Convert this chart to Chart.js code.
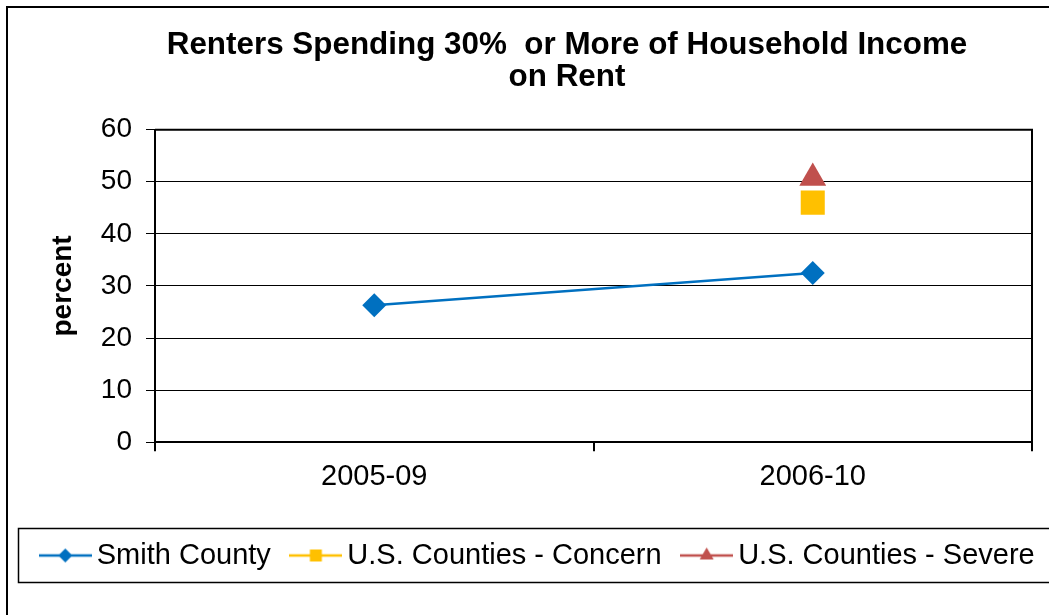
<!DOCTYPE html>
<html>
<head>
<meta charset="utf-8">
<script src="https://cdn.jsdelivr.net/npm/chart.js@4/dist/chart.umd.min.js"></script>
<style>
html,body{margin:0;padding:0;background:#fff;}
#wrap{width:1049px;height:615px;position:relative;}
</style>
</head>
<body>
<div id="wrap"><canvas id="c" width="1049" height="615"></canvas></div>
<script>
const categories = ['2005-09', '2006-10'];
const smithCounty = [26.3, 32.5];
const usConcern = [null, 46.0];
const usSevere = [null, 50.7];
const yTicks = [0, 10, 20, 30, 40, 50, 60];
const titleLines = ['Renters Spending 30%  or More of Household Income', 'on Rent'];
const seriesNames = ['Smith County', 'U.S. Counties - Concern', 'U.S. Counties - Severe'];

const FONT = '"Liberation Sans", Arial, sans-serif';
const BLUE = '#0070C0', GOLD = '#FFC000', RED = '#C0504D';

function legendMarker(color, style) {
  const c = document.createElement('canvas');
  c.width = 53; c.height = 30;
  const x = c.getContext('2d');
  x.strokeStyle = color; x.lineWidth = 2.5;
  x.beginPath(); x.moveTo(0, 15); x.lineTo(53, 15); x.stroke();
  x.fillStyle = color;
  x.beginPath();
  const cx = 26.5, cy = 15;
  if (style === 'diamond') {
    x.moveTo(cx, cy - 7); x.lineTo(cx + 7, cy); x.lineTo(cx, cy + 7); x.lineTo(cx - 7, cy);
  } else if (style === 'square') {
    x.rect(cx - 6, cy - 6, 12, 12);
  } else {
    x.moveTo(cx, cy - 8); x.lineTo(cx + 7, cy + 4); x.lineTo(cx - 7, cy + 4);
  }
  x.closePath(); x.fill();
  return c;
}
const markers = [legendMarker(BLUE, 'diamond'), legendMarker(GOLD, 'square'), legendMarker(RED, 'triangle')];

const framePlugin = {
  id: 'frame',
  afterLayout(chart) {
    if (chart.titleBlock) { chart.titleBlock.left += 85; }
    if (chart.legend) { chart.legend.left += 17; chart.legend.right += 17; }
  },
  beforeDraw(chart) {
    const ctx = chart.ctx;
    ctx.save();
    ctx.fillStyle = '#fff';
    ctx.fillRect(0, 0, chart.width, chart.height);
    ctx.strokeStyle = '#000'; ctx.lineWidth = 2;
    ctx.strokeRect(7, 7, 1100, 700);
    ctx.restore();
  },
  afterDraw(chart) {
    const ctx = chart.ctx, a = chart.chartArea;
    ctx.save();
    ctx.strokeStyle = '#000'; ctx.lineWidth = 2;
    ctx.beginPath();
    ctx.moveTo(a.left, a.top); ctx.lineTo(a.right, a.top); ctx.lineTo(a.right, a.bottom);
    ctx.stroke();
    const lg = chart.legend;
    if (lg && lg.legendHitBoxes && lg.legendHitBoxes.length) {
      const hb = lg.legendHitBoxes[0];
      const cy = hb.top + hb.height / 2;
      ctx.lineWidth = 1.5;
      ctx.strokeRect(18.5, cy - 27, 1100, 54);
    }
    ctx.restore();
  }
};

new Chart(document.getElementById('c'), {
  type: 'line',
  data: {
    labels: categories,
    datasets: [
      { label: seriesNames[0], data: smithCounty, borderColor: BLUE, backgroundColor: BLUE, borderWidth: 2.5,
        pointStyle: 'rectRot', pointRadius: 12, pointHoverRadius: 12, pointBorderWidth: 0, tension: 0 },
      { label: seriesNames[1], data: usConcern, borderColor: GOLD, backgroundColor: GOLD, borderWidth: 2.5, showLine: false,
        pointStyle: 'rect', pointRadius: 17, pointHoverRadius: 17, pointBorderWidth: 0 },
      { label: seriesNames[2], data: usSevere, borderColor: RED, backgroundColor: RED, borderWidth: 2.5, showLine: false,
        pointStyle: 'triangle', pointRadius: 15.5, pointHoverRadius: 15.5, pointBorderWidth: 0 }
    ]
  },
  options: {
    responsive: false,
    animation: false,
    devicePixelRatio: 1,
    layout: { padding: { left: 0, right: 0, top: 7, bottom: 35 } },
    plugins: {
      title: {
        display: true, text: titleLines, color: '#000',
        font: { family: FONT, size: 31.4, weight: 'bold', lineHeight: 1.03 },
        padding: { top: 22, bottom: 36 }
      },
      legend: {
        display: true, position: 'bottom', align: 'center',
        labels: {
          color: '#000', font: { family: FONT, size: 29 },
          usePointStyle: true, pointStyleWidth: 34, boxHeight: 29, padding: 28,
          generateLabels(chart) {
            return chart.data.datasets.map((d, i) => ({
              text: d.label, pointStyle: markers[i], fillStyle: d.backgroundColor,
              strokeStyle: d.borderColor, lineWidth: 0, hidden: false, datasetIndex: i, fontColor: '#000'
            }));
          }
        }
      },
      tooltip: { enabled: false }
    },
    scales: {
      x: {
        offset: true,
        afterFit(scale) { scale.height += 11; },
        grid: { display: true, drawOnChartArea: false, drawTicks: true, tickLength: 9, offset: true, color: '#000', lineWidth: 2 },
        border: { display: true, color: '#000', width: 2 },
        ticks: { color: '#000', font: { family: FONT, size: 29 }, padding: 8 }
      },
      y: {
        min: 0, max: 60,
        afterBuildTicks(scale) { scale.ticks = yTicks.map(v => ({ value: v })); },
        afterFit(scale) { scale.width = 155; },
        grid: { color: '#000', lineWidth: 1, tickLength: 9, drawTicks: true },
        border: { display: true, color: '#000', width: 2 },
        ticks: { color: '#000', font: { family: FONT, size: 28 }, padding: 14 },
        title: { display: true, text: 'percent', color: '#000', font: { family: FONT, size: 28, weight: 'bold' }, padding: { top: 46, bottom: 0 } }
      }
    }
  },
  plugins: [framePlugin]
});
</script>
</body>
</html>
